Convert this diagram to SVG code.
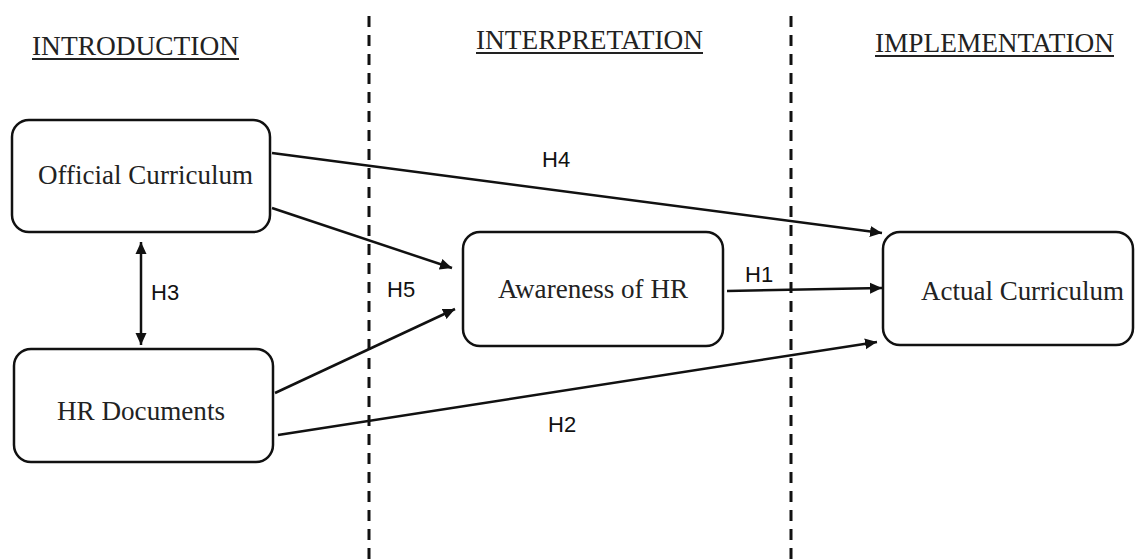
<svg xmlns="http://www.w3.org/2000/svg" width="1135" height="560" viewBox="0 0 1135 560">
<style>
.box{fill:#fff;stroke:#111;stroke-width:2.5}
.lbl{font-family:"Liberation Serif","Times New Roman",serif;font-size:27px;fill:#222}
.title{font-family:"Liberation Serif","Times New Roman",serif;font-size:27px;fill:#222}
.ul{stroke:#222;stroke-width:2}
.h{font-family:"Liberation Sans",Arial,sans-serif;font-size:22px;fill:#111}
.conn{stroke:#111;stroke-width:2.5;fill:none;marker-end:url(#ah)}
.dash{stroke:#111;stroke-width:3;stroke-dasharray:11 8}
</style>
<defs>
<marker id="ah" markerUnits="userSpaceOnUse" markerWidth="13" markerHeight="12" refX="12" refY="6" orient="auto-start-reverse">
<path d="M0,0.5 L12,6 L0,11.5 z" fill="#111"/>
</marker>
</defs>
<rect width="1135" height="560" fill="#fff"/>
<g id="dividers">
<line class="dash" x1="369" y1="16" x2="369" y2="560"/>
<line class="dash" x1="791" y1="16" x2="791" y2="560"/>
</g>
<g id="titles">
<text class="title" x="32" y="55" textLength="207" lengthAdjust="spacingAndGlyphs">INTRODUCTION</text>
<line class="ul" x1="32" y1="59" x2="239" y2="59"/>
<text class="title" x="476" y="49" textLength="227" lengthAdjust="spacingAndGlyphs">INTERPRETATION</text>
<line class="ul" x1="476" y1="53" x2="703" y2="53"/>
<text class="title" x="875" y="52" textLength="239" lengthAdjust="spacingAndGlyphs">IMPLEMENTATION</text>
<line class="ul" x1="875" y1="56" x2="1114" y2="56"/>
</g>
<g id="connectors">
<line class="conn" x1="272" y1="153" x2="882" y2="233"/>
<line class="conn" x1="272" y1="208" x2="452" y2="268"/>
<line class="conn" x1="275" y1="393" x2="455" y2="309"/>
<line class="conn" x1="278" y1="435" x2="877" y2="342"/>
<line class="conn" x1="727" y1="291" x2="882" y2="288"/>
<line class="conn" x1="141" y1="242" x2="141" y2="345" style="marker-start:url(#ah)"/>
<text class="h" x="542" y="167">H4</text>
<text class="h" x="151" y="300">H3</text>
<text class="h" x="387" y="297">H5</text>
<text class="h" x="745" y="282">H1</text>
<text class="h" x="548" y="432">H2</text>
</g>
<g id="official">
<rect class="box" x="12" y="120" width="258" height="112" rx="17"/>
<text class="lbl" x="38" y="184" textLength="215" lengthAdjust="spacingAndGlyphs">Official Curriculum</text>
</g>
<g id="hrdocs">
<rect class="box" x="14" y="349" width="259" height="113" rx="17"/>
<text class="lbl" x="57" y="420" textLength="168" lengthAdjust="spacingAndGlyphs">HR Documents</text>
</g>
<g id="awareness">
<rect class="box" x="463" y="232" width="260" height="114" rx="17"/>
<text class="lbl" x="498" y="298" textLength="190" lengthAdjust="spacingAndGlyphs">Awareness of HR</text>
</g>
<g id="actual">
<rect class="box" x="883" y="232" width="250" height="113" rx="17"/>
<text class="lbl" x="921" y="300" textLength="203" lengthAdjust="spacingAndGlyphs">Actual Curriculum</text>
</g>
</svg>
